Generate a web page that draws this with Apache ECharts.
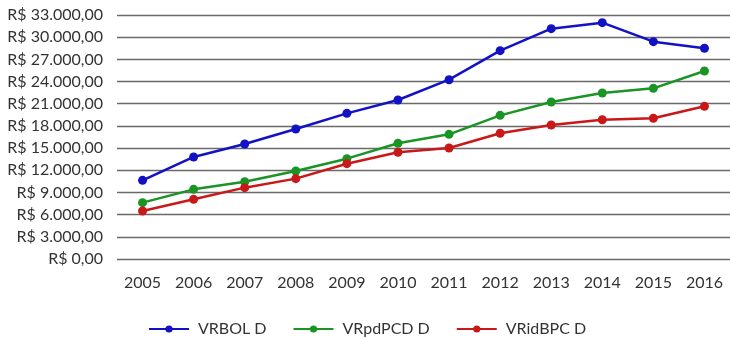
<!DOCTYPE html>
<html>
<head>
<meta charset="utf-8">
<script src="https://cdn.jsdelivr.net/npm/echarts@6/dist/echarts.min.js"></script>
<style>
  html, body { margin: 0; padding: 0; background: #fff; }
  #chart { width: 730px; height: 339px; }
</style>
</head>
<body>
<div id="chart"></div>
<script>
// Anos e séries (R$)
const years = ['2005', '2006', '2007', '2008', '2009', '2010', '2011', '2012', '2013', '2014', '2015', '2016'];
const vrbol = [10640, 13800, 15550, 17580, 19700, 21500, 24250, 28180, 31150, 31960, 29390, 28500];
const vrpdpcd = [7620, 9420, 10460, 11900, 13570, 15650, 16860, 19430, 21240, 22450, 23080, 25430];
const vridbpc = [6490, 8070, 9650, 10870, 12890, 14430, 15010, 17000, 18130, 18840, 19030, 20650];
const seriesNames = ['VRBOL D', 'VRpdPCD D', 'VRidBPC D'];
const colors = ['#1212c4', '#1a9424', '#c81818'];

const fontFamily = 'Lato, "Noto Sans", sans-serif';

function brl(v) {
  const s = Math.round(v).toString().replace(/\B(?=(\d{3})+(?!\d))/g, '.');
  return 'R$ ' + s + ',00';
}

const chart = echarts.init(document.getElementById('chart'), null, { renderer: 'canvas' });

function lineSeries(name, data, color) {
  return {
    name: name,
    type: 'line',
    data: data,
    symbol: 'circle',
    symbolSize: 9,
    lineStyle: { color: color, width: 2.5 },
    itemStyle: { color: color },
    emphasis: { disabled: true }
  };
}

chart.setOption({
  animation: false,
  color: colors,
  grid: { left: 117, top: 15, width: 624, height: 244, containLabel: false },
  legend: {
    top: 316,
    left: 143,
    itemWidth: 40,
    itemHeight: 9,
    itemGap: 26,
    textStyle: { fontFamily: fontFamily, fontSize: 16, lineHeight: 16, color: '#333', padding: [0, 0, 0, 4] },
    data: seriesNames
  },
  xAxis: {
    type: 'category',
    data: years,
    boundaryGap: true,
    axisLine: { show: false },
    axisTick: { show: false },
    axisLabel: { fontFamily: fontFamily, fontSize: 16, color: '#333', margin: 16 }
  },
  yAxis: {
    type: 'value',
    min: 0,
    max: 33000,
    interval: 3000,
    axisLine: { show: false },
    axisTick: { show: false },
    axisLabel: { fontFamily: fontFamily, fontSize: 16, color: '#333', margin: 14, formatter: brl },
    splitLine: { lineStyle: { color: '#6a6a6a', width: 1.3 } }
  },
  series: [
    lineSeries(seriesNames[0], vrbol, colors[0]),
    lineSeries(seriesNames[1], vrpdpcd, colors[1]),
    lineSeries(seriesNames[2], vridbpc, colors[2])
  ]
});
</script>
</body>
</html>
